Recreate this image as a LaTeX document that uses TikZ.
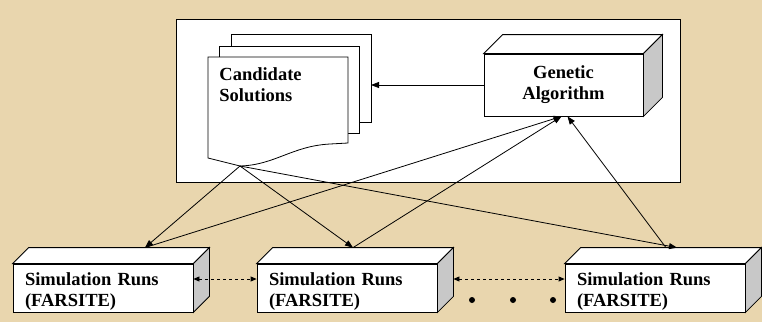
\documentclass[tikz,border=0pt]{standalone}
\usepackage{fontspec}
\setmainfont{Liberation Serif}
\usetikzlibrary{arrows.meta,calc}

\definecolor{parchment}{RGB}{233,214,174}
\definecolor{sidegray}{RGB}{200,200,200}

% top and side faces of a box drawn behind its front node
\newcommand{\boxfaces}[2]{%
  \draw[fill=white] (#1.north west) -- ++(#2,-#2) -- ($(#1.north east)+(#2,-#2)$) -- (#1.north east) -- cycle;
  \draw[fill=sidegray] (#1.north east) -- ++(#2,-#2) -- ($(#1.south east)+(#2,-#2)$) -- (#1.south east) -- cycle;
}

\begin{document}
\begin{tikzpicture}[x=1pt,y=-1pt,line width=0.8pt,
   face/.style={draw,fill=white,inner sep=0pt,font=\fontsize{18.5}{21}\selectfont\bfseries},
   simbox/.style={face,minimum width=180pt,minimum height=48pt,text width=156pt,inner xsep=12pt,align=left,text height=20pt},
   arr/.style={-{Triangle[length=8pt,width=6pt]}},
   dasharr/.style={dashed,{Triangle[length=6pt,width=5pt]}-{Triangle[length=6pt,width=5pt]}}]

   \fill[parchment] (0,0) rectangle (762,322);
   \useasboundingbox (0,0) rectangle (762,322);

   \draw[fill=white] (176,19) rectangle (680,182);

   % stack of candidate solutions
   \draw[fill=white] (231,34) rectangle (371,122);
   \draw[fill=white] (219,46) rectangle (359,133);
   \draw[fill=white] (208,57) -- (348,57) -- (348,143) -- (330,144)
      .. controls (292,146) and (275,165) .. (240,166) -- (208,158) -- cycle;
   \node[inner sep=0pt,text width=130pt,align=left,anchor=base west,
      font=\fontsize{18.5}{21}\selectfont\bfseries] (cand) at (219,80) {Candidate\\Solutions};
   \coordinate (apex) at (240,166);
   \coordinate (stackE) at (371,85);

   % genetic algorithm
   \node[face,minimum width=159pt,minimum height=62pt,align=center] (ga) at (563.5,85) {Genetic\\Algorithm};
   \boxfaces{ga}{19}

   % simulation runs
   \node[simbox] (sim1) at (103,288) {Simulation Runs\\(FARSITE)};
   \node[simbox] (sim2) at (347,288) {Simulation Runs\\(FARSITE)};
   \node[simbox] (sim3) at (655,288) {Simulation Runs\\(FARSITE)};
   \boxfaces{sim1}{16}
   \boxfaces{sim2}{16}
   \boxfaces{sim3}{16}

   \coordinate (in1) at ($(sim1.north)+(42,-16)$);
   \coordinate (in2) at ($(sim2.north)+(6,-16)$);
   \coordinate (in3) at ($(sim3.north)+(22,-16)$);
   \coordinate (out3) at ($(sim3.north)+(11,-16)$);

   \draw[arr] (ga.west) -- (stackE);

   \draw[arr] (apex) -- (in1);
   \draw[arr] (apex) -- (in2);
   \draw[arr] (apex) -- (in3);

   \draw[arr] (in1) -- ([xshift=-2pt]ga.south);
   \draw[arr] (in2) -- ([xshift=-2pt]ga.south);
   \draw[arr] (out3) -- ([xshift=4pt]ga.south);

   \draw[dasharr] ([yshift=9pt]sim1.east) -- ([yshift=9pt]sim2.west);
   \draw[dasharr] ([xshift=16pt,yshift=9pt]sim2.east) -- ([yshift=9pt]sim3.west);

   \fill (472,300) circle (3pt);
   \fill (513,300) circle (3pt);
   \fill (553,300) circle (3pt);

\end{tikzpicture}
\end{document}
